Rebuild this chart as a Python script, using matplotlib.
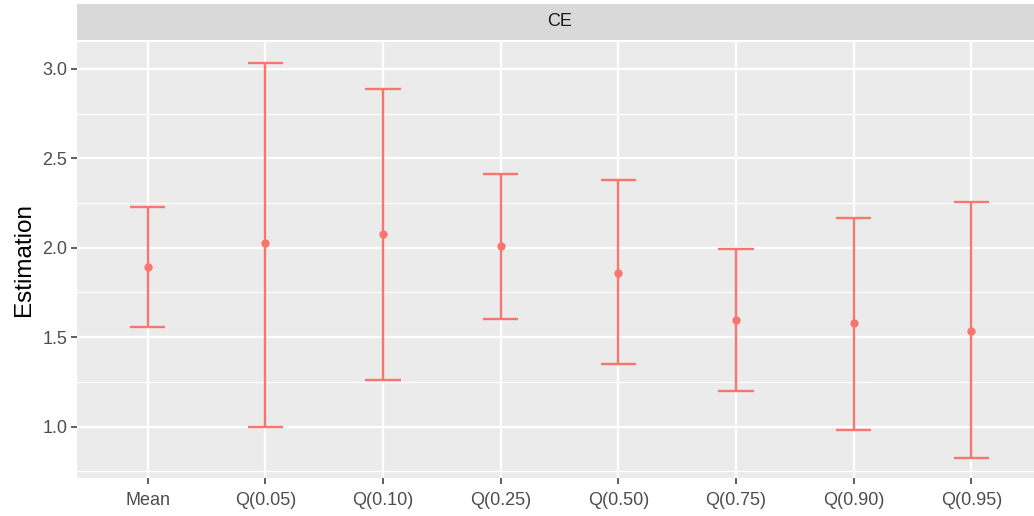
import matplotlib
matplotlib.use("Agg")
import matplotlib.pyplot as plt
import numpy as np

categories = ["Mean", "Q(0.05)", "Q(0.10)", "Q(0.25)", "Q(0.50)", "Q(0.75)", "Q(0.90)", "Q(0.95)"]
estimate = [1.892, 2.026, 2.075, 2.012, 1.860, 1.595, 1.577, 1.534]
lower = [1.555, 1.000, 1.262, 1.603, 1.350, 1.197, 0.980, 0.822]
upper = [2.230, 3.035, 2.889, 2.410, 2.378, 1.993, 2.169, 2.253]
panel_title = "CE"
y_label = "Estimation"
yticks = [1.0, 1.5, 2.0, 2.5, 3.0]

plt.rcParams['font.family'] = ['Liberation Sans', 'DejaVu Sans']

W, H = 1034, 516
fig = plt.figure(figsize=(W/100, H/100), dpi=100)
L, R = 77, 1042
B, T = 478, 42
ax = fig.add_axes([L/W, 1 - B/H, (R-L)/W, (B-T)/H])
strip = fig.add_axes([L/W, 1 - T/H + 2/H, (R-L)/W, (T-4-2)/H])

col = "#F8766D"
ax.set_facecolor("#EBEBEB")
x = np.arange(len(categories))
ax.set_xlim(-0.6, len(categories) - 1 + 0.6)
ax.set_ylim(0.713, 3.15)

# grid
for yv in yticks:
    ax.axhline(yv, color="white", lw=1.6, zorder=1)
minor = [0.75, 1.25, 1.75, 2.25, 2.75]
for yv in minor:
    ax.axhline(yv, color="white", lw=0.8, zorder=1)
for xv in x:
    ax.axvline(xv, color="white", lw=1.6, zorder=1)

cap = 0.15
for xi, lo, hi, est in zip(x, lower, upper, estimate):
    ax.plot([xi, xi], [lo, hi], color=col, lw=1.7, zorder=3, solid_capstyle='butt')
    ax.plot([xi - cap, xi + cap], [lo, lo], color=col, lw=1.7, zorder=3, solid_capstyle='butt')
    ax.plot([xi - cap, xi + cap], [hi, hi], color=col, lw=1.7, zorder=3, solid_capstyle='butt')
ax.scatter(x, estimate, s=36, color=col, zorder=4, linewidths=0)

for s in ax.spines.values():
    s.set_visible(False)
ax.set_xticks(x)
ax.set_xticklabels(categories)
ax.set_yticks(yticks)
ax.set_yticklabels([f"{v:.1f}" for v in yticks])
ax.tick_params(axis='both', colors="#333333", labelcolor="#4D4D4D", labelsize=13, length=4, width=1.1, pad=3)
ax.tick_params(axis='x', pad=6)
ax.set_ylabel(y_label, fontsize=17.5, color="black", labelpad=5)

strip.set_facecolor("#D9D9D9")
strip.set_xticks([]); strip.set_yticks([])
for s in strip.spines.values():
    s.set_visible(False)
strip.text(0.5, 0.5, panel_title, ha='center', va='center', fontsize=13, color="#1A1A1A", transform=strip.transAxes)

fig.savefig("out.png", dpi=100)
